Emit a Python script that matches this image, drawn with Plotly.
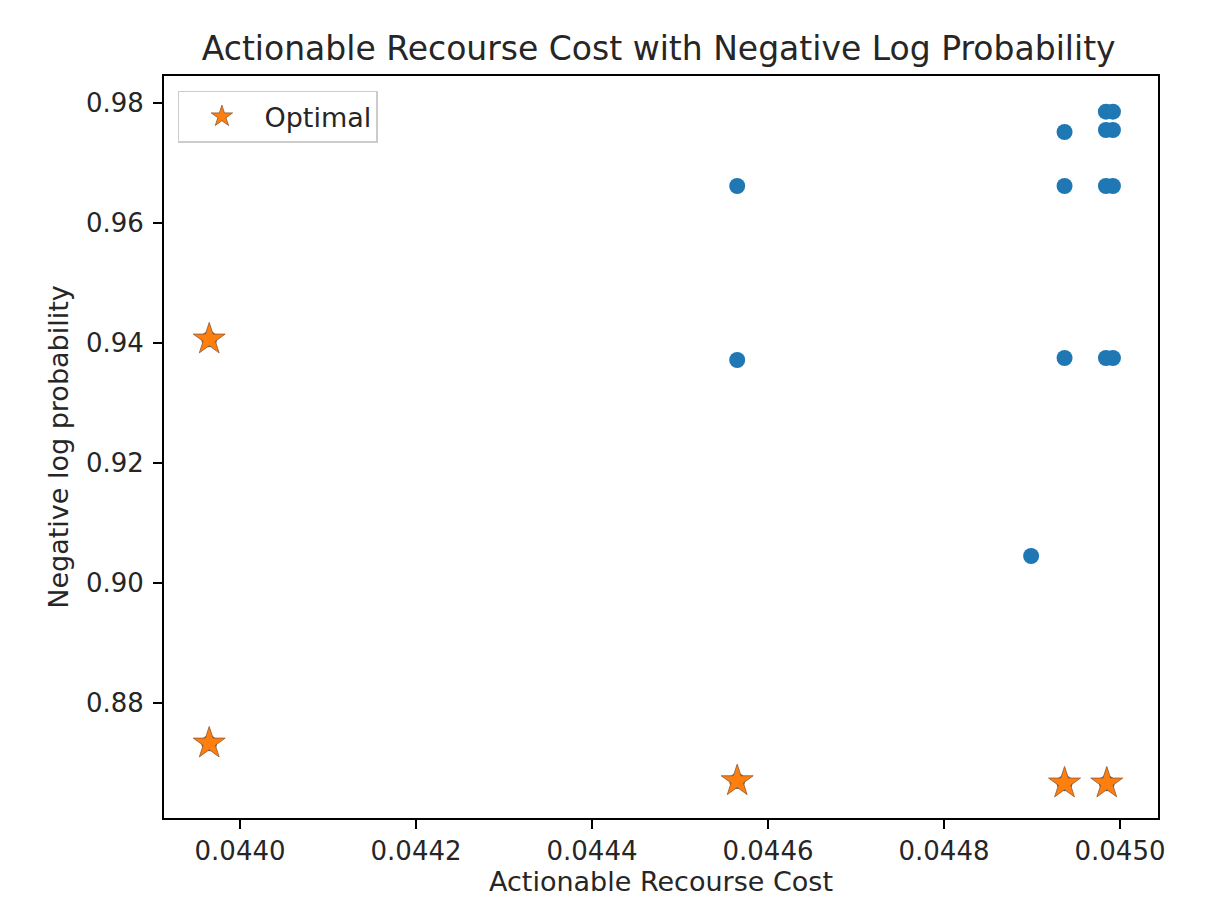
import plotly.graph_objects as go

# All evaluated solutions (blue)
cost_all = [0.043965, 0.043965, 0.044565, 0.044565, 0.044565, 0.044899,
            0.044937, 0.044937, 0.044937, 0.044937,
            0.044984, 0.044992, 0.044984, 0.044992, 0.044984, 0.044992,
            0.044984, 0.044992, 0.044985]
nlp_all = [0.94057, 0.87323, 0.96612, 0.93712, 0.86695, 0.90445,
           0.97512, 0.96612, 0.93745, 0.86657,
           0.97850, 0.97850, 0.97545, 0.97545, 0.96612, 0.96612,
           0.93745, 0.93745, 0.86657]

# Optimal solutions (orange stars)
cost_opt = [0.043965, 0.043965, 0.044565, 0.044937, 0.044985]
nlp_opt = [0.94057, 0.87323, 0.86695, 0.86657, 0.86657]

x_ticks = [0.0440, 0.0442, 0.0444, 0.0446, 0.0448, 0.0450]
y_ticks = [0.88, 0.90, 0.92, 0.94, 0.96, 0.98]

BLUE = "#1f77b4"
ORANGE = "#ff7f0e"
FONT = "DejaVu Sans"
TXT = "#262626"

fig = go.Figure()
fig.add_trace(go.Scatter(
    x=cost_all, y=nlp_all, mode="markers", showlegend=False,
    marker=dict(color=BLUE, size=16, line=dict(width=0)),
))
fig.add_trace(go.Scatter(
    x=cost_opt, y=nlp_opt, mode="markers", name="Optimal",
    marker=dict(color=ORANGE, size=24, symbol="star",
                line=dict(width=1, color="rgba(150,90,50,0.85)")),
))

axis_common = dict(
    showline=True, linecolor="black", linewidth=1.8, mirror=True,
    ticks="outside", ticklen=9, tickwidth=1.8, tickcolor="black",
    showgrid=False, zeroline=False,
    tickfont=dict(family=FONT, size=26, color=TXT),
)

fig.update_layout(
    width=1205, height=900,
    paper_bgcolor="white", plot_bgcolor="white",
    margin=dict(l=156, r=55, t=68, b=90),
    title=dict(text="Actionable Recourse Cost with Negative Log Probability",
               x=0.540, xanchor="center", y=0.9556, yanchor="middle",
               font=dict(family=FONT, size=33, color=TXT)),
    xaxis=dict(range=[0.0439136, 0.0450432], tickvals=x_ticks,
               ticktext=[f"{v:.4f}" for v in x_ticks],
               title=dict(text="Actionable Recourse Cost", standoff=4,
                          font=dict(family=FONT, size=27, color=TXT)),
               **axis_common),
    yaxis=dict(range=[0.86078, 0.98445], tickvals=y_ticks,
               ticktext=[f"{v:.2f}" for v in y_ticks],
               ticklabelstandoff=4,
               title=dict(text="Negative log probability", standoff=10,
                          font=dict(family=FONT, size=27, color=TXT)),
               **axis_common),
    legend=dict(x=0.014, y=0.98, xanchor="left", yanchor="top",
                bordercolor="#cccccc", borderwidth=1.5, bgcolor="white",
                font=dict(family=FONT, size=27, color=TXT),
                itemwidth=75),
)

fig.write_html("out.html")
